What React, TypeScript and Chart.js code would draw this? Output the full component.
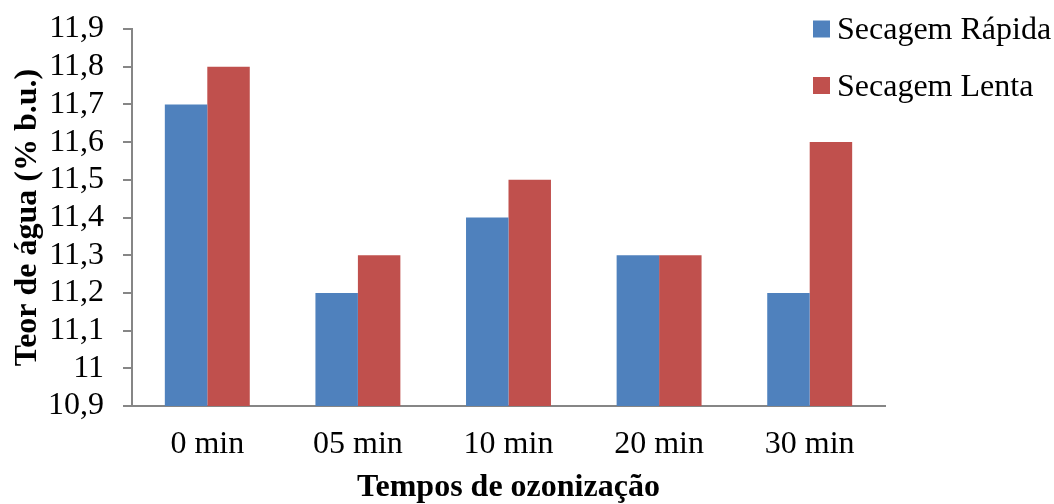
import React, { useEffect, useRef } from "react";
import { Chart, registerables } from "chart.js";

Chart.register(...registerables);

const categories = ["0 min", "05 min", "10 min", "20 min", "30 min"];
const seriesNames = ["Secagem Rápida", "Secagem Lenta"];
const rapida = [11.7, 11.2, 11.4, 11.3, 11.2];
const lenta = [11.8, 11.3, 11.5, 11.3, 11.6];
const colors = ["#4F81BD", "#C0504D"];
const yMin = 10.9;
const yMax = 11.9;
const yStep = 0.1;
const yTitle = "Teor de água (% b.u.)";
const xTitle = "Tempos de ozonização";

const FONT = "'Liberation Serif', 'Times New Roman', serif";

const legendPlugin = {
  id: "customLegend",
  afterDraw(chart: any) {
    const ctx = chart.ctx;
    ctx.save();
    ctx.font = `32px ${FONT}`;
    ctx.textBaseline = "middle";
    ctx.textAlign = "left";
    const x = 813;
    const ys = [29, 85.5];
    chart.data.datasets.forEach((ds: any, i: number) => {
      ctx.fillStyle = ds.backgroundColor;
      ctx.fillRect(x, ys[i] - 8.5, 17, 17);
      ctx.fillStyle = "#000";
      ctx.fillText(ds.label, x + 24, ys[i] + 2);
    });
    ctx.restore();
  },
};

export default function App() {
  const ref = useRef<HTMLCanvasElement | null>(null);
  useEffect(() => {
    if (!ref.current) return;
    const chart = new Chart(ref.current, {
      type: "bar",
      data: {
        labels: categories,
        datasets: [
          { label: seriesNames[0], data: rapida, backgroundColor: colors[0], borderWidth: 0 },
          { label: seriesNames[1], data: lenta, backgroundColor: colors[1], borderWidth: 0 },
        ],
      },
      plugins: [legendPlugin],
      options: {
        responsive: false,
        animation: false,
        layout: { padding: { left: 6, right: 169, top: 29, bottom: 0 } },
        plugins: { legend: { display: false }, tooltip: { enabled: false } },
        datasets: { bar: { categoryPercentage: 0.564, barPercentage: 1 } },
        scales: {
          x: {
            afterFit: (s: any) => {
              s.height = 98;
            },
            grid: { drawOnChartArea: false, drawTicks: false },
            border: { display: true, color: "#868686", width: 2 },
            ticks: { color: "#000", font: { family: FONT, size: 32 }, padding: 19, maxRotation: 0 },
            title: {
              display: true,
              text: xTitle,
              color: "#000",
              font: { family: FONT, size: 32, weight: "bold", lineHeight: 1.0 },
              padding: { top: 8, bottom: 0 },
            },
          },
          y: {
            min: yMin,
            max: yMax,
            afterFit: (s: any) => {
              s.width = 126;
              s.paddingTop = 0;
              s.paddingBottom = 0;
            },
            grid: { drawOnChartArea: false, drawTicks: true, tickLength: 9, color: "#868686", lineWidth: 2 },
            border: { display: true, color: "#868686", width: 2 },
            ticks: {
              stepSize: yStep,
              autoSkip: false,
              color: "#000",
              font: { family: FONT, size: 32 },
              padding: 19,
              callback: (v: any) => String(Math.round(Number(v) * 10) / 10).replace(".", ","),
            },
            title: {
              display: true,
              text: yTitle,
              color: "#000",
              font: { family: FONT, size: 32, weight: "bold" },
              padding: { top: 3, bottom: 1 },
            },
          },
        },
      },
    });
    return () => chart.destroy();
  }, []);
  return (
    <div style={{ position: "fixed", left: 0, top: 0, width: 1054, height: 504, background: "#fff" }}>
      <canvas ref={ref} width={1054} height={504} />
    </div>
  );
}
